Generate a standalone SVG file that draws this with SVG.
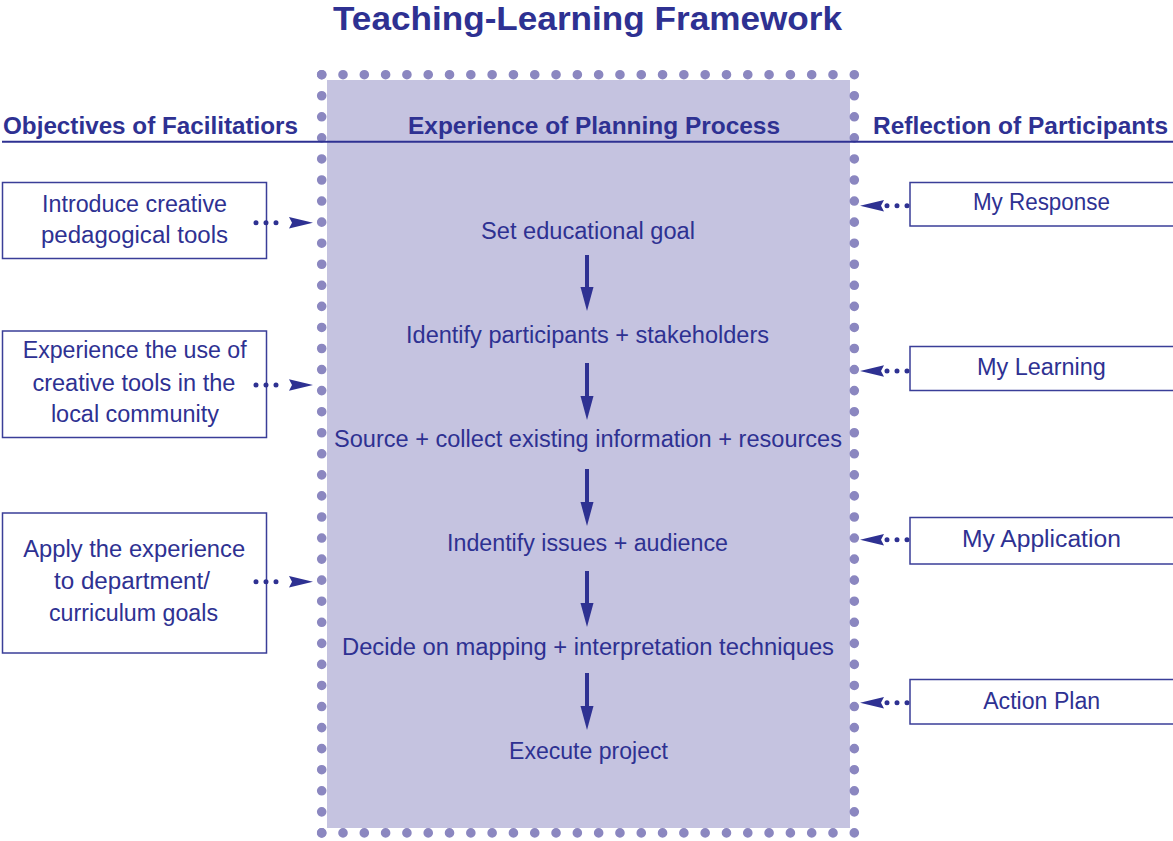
<svg xmlns="http://www.w3.org/2000/svg" width="1173" height="841" viewBox="0 0 1173 841">
<style>
  .t{font-family:"Liberation Sans",Arial,sans-serif;fill:#2e3192;font-size:23px;text-anchor:middle}
  .h{font-family:"Liberation Sans",Arial,sans-serif;fill:#2e3192;font-weight:bold;font-size:23px}
  .title{font-family:"Liberation Sans",Arial,sans-serif;fill:#2e3192;font-weight:bold;font-size:33px;text-anchor:middle}
  .box{fill:#ffffff;stroke:#3a3e98;stroke-width:1.5}
  .dotline{fill:none;stroke:#8b87c0;stroke-width:9.6;stroke-linecap:round}
  .sdots{fill:none;stroke:#2e3192;stroke-width:5;stroke-linecap:round;stroke-dasharray:0 10}
  .head{fill:#2e3192}
  .shaft{stroke:#2e3192;stroke-width:4}
</style>
<rect x="0" y="0" width="1173" height="841" fill="#ffffff"/>
<text class="title" x="587.5" y="30" textLength="509" lengthAdjust="spacingAndGlyphs">Teaching-Learning Framework</text>

<g id="planning-process">
  <rect x="327" y="80" width="523" height="748" fill="#c5c3e0"/>
  <line class="dotline" x1="321.7" y1="74.7" x2="854.3" y2="74.7" stroke-dasharray="0 21.304"/>
  <line class="dotline" x1="321.7" y1="832.9" x2="854.3" y2="832.9" stroke-dasharray="0 21.304"/>
  <line class="dotline" x1="321.7" y1="74.7" x2="321.7" y2="832.9" stroke-dasharray="0 21.061"/>
  <line class="dotline" x1="854.3" y1="74.7" x2="854.3" y2="832.9" stroke-dasharray="0 21.061"/>
</g>

<g id="headers">
  <line x1="2" y1="141.7" x2="1173" y2="141.7" stroke="#2e3192" stroke-width="2"/>
  <text class="h" x="3" y="134" textLength="295" lengthAdjust="spacingAndGlyphs">Objectives of Facilitatiors</text>
  <text class="h" x="408" y="134" textLength="372" lengthAdjust="spacingAndGlyphs">Experience of Planning Process</text>
  <text class="h" x="873" y="134" textLength="295" lengthAdjust="spacingAndGlyphs">Reflection of Participants</text>
</g>

<g id="step1"><text class="t" x="588" y="239" textLength="214" lengthAdjust="spacingAndGlyphs">Set educational goal</text></g>
<g id="step2"><text class="t" x="587.5" y="343" textLength="363" lengthAdjust="spacingAndGlyphs">Identify participants + stakeholders</text></g>
<g id="step3"><text class="t" x="588" y="447" textLength="508" lengthAdjust="spacingAndGlyphs">Source + collect existing information + resources</text></g>
<g id="step4"><text class="t" x="587.5" y="551" textLength="281" lengthAdjust="spacingAndGlyphs">Indentify issues + audience</text></g>
<g id="step5"><text class="t" x="588" y="655" textLength="492" lengthAdjust="spacingAndGlyphs">Decide on mapping + interpretation techniques</text></g>
<g id="step6"><text class="t" x="588.5" y="759" textLength="159" lengthAdjust="spacingAndGlyphs">Execute project</text></g>

<g id="obj1">
  <rect class="box" x="2.5" y="182.5" width="264" height="76"/>
  <text class="t" x="134.5" y="211.7" textLength="185" lengthAdjust="spacingAndGlyphs">Introduce creative</text>
  <text class="t" x="134.5" y="242.7" textLength="187" lengthAdjust="spacingAndGlyphs">pedagogical tools</text>
</g>
<g id="obj2">
  <rect class="box" x="2.5" y="331" width="264" height="106.5"/>
  <text class="t" x="134.7" y="358.3" textLength="224" lengthAdjust="spacingAndGlyphs">Experience the use of</text>
  <text class="t" x="133.9" y="391" textLength="203" lengthAdjust="spacingAndGlyphs">creative tools in the</text>
  <text class="t" x="134.9" y="421.7" textLength="168" lengthAdjust="spacingAndGlyphs">local community</text>
</g>
<g id="obj3">
  <rect class="box" x="2.5" y="513" width="264" height="140"/>
  <text class="t" x="134.2" y="557.3" textLength="222" lengthAdjust="spacingAndGlyphs">Apply the experience</text>
  <text class="t" x="132" y="589.3" textLength="156" lengthAdjust="spacingAndGlyphs">to department/</text>
  <text class="t" x="133.5" y="621" textLength="169" lengthAdjust="spacingAndGlyphs">curriculum goals</text>
</g>

<g id="ref1">
  <rect class="box" x="910" y="182.5" width="270" height="43.5"/>
  <text class="t" x="1041.4" y="210" textLength="137" lengthAdjust="spacingAndGlyphs">My Response</text>
</g>
<g id="ref2">
  <rect class="box" x="910" y="346.5" width="270" height="44"/>
  <text class="t" x="1041.4" y="375" textLength="129" lengthAdjust="spacingAndGlyphs">My Learning</text>
</g>
<g id="ref3">
  <rect class="box" x="910" y="517.5" width="270" height="46.5"/>
  <text class="t" x="1041.4" y="546.7" textLength="159" lengthAdjust="spacingAndGlyphs">My Application</text>
</g>
<g id="ref4">
  <rect class="box" x="910" y="679.5" width="270" height="44.5"/>
  <text class="t" x="1041.7" y="709" textLength="117" lengthAdjust="spacingAndGlyphs">Action Plan</text>
</g>

<g id="connectors">
  <line class="shaft" x1="587" y1="255" x2="587" y2="290"/>
  <path class="head" d="M580.5,287 L593.5,287 L587,311 Z"/>
  <line class="shaft" x1="587" y1="363" x2="587" y2="399"/>
  <path class="head" d="M580.5,396 L593.5,396 L587,420 Z"/>
  <line class="shaft" x1="587" y1="469" x2="587" y2="505"/>
  <path class="head" d="M580.5,502 L593.5,502 L587,526 Z"/>
  <line class="shaft" x1="587" y1="571" x2="587" y2="606"/>
  <path class="head" d="M580.5,603 L593.5,603 L587,627 Z"/>
  <line class="shaft" x1="587" y1="673" x2="587" y2="709"/>
  <path class="head" d="M580.5,706 L593.5,706 L587,730 Z"/>

  <line class="sdots" x1="256" y1="222.7" x2="286" y2="222.7"/>
  <path class="head" d="M289,217 L313,222.7 L289,228.4 L292,222.7 Z"/>
  <line class="sdots" x1="256" y1="385" x2="286" y2="385"/>
  <path class="head" d="M289,379.3 L313,385 L289,390.7 L292,385 Z"/>
  <line class="sdots" x1="256" y1="581.7" x2="286" y2="581.7"/>
  <path class="head" d="M289,576 L313,581.7 L289,587.4 L292,581.7 Z"/>

  <line class="sdots" x1="887" y1="205.7" x2="917" y2="205.7"/>
  <path class="head" d="M884,200 L860,205.7 L884,211.4 L881,205.7 Z"/>
  <line class="sdots" x1="887" y1="371" x2="917" y2="371"/>
  <path class="head" d="M884,365.3 L860,371 L884,376.7 L881,371 Z"/>
  <line class="sdots" x1="887" y1="539.7" x2="917" y2="539.7"/>
  <path class="head" d="M884,534 L860,539.7 L884,545.4 L881,539.7 Z"/>
  <line class="sdots" x1="887" y1="702.7" x2="917" y2="702.7"/>
  <path class="head" d="M884,697 L860,702.7 L884,708.4 L881,702.7 Z"/>
</g>
</svg>
